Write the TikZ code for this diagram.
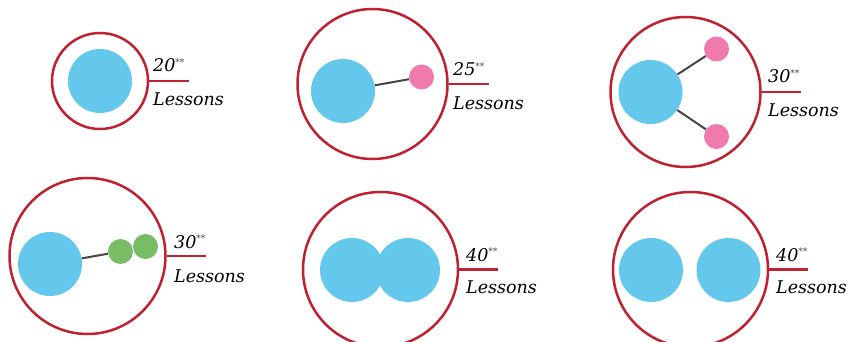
\documentclass[tikz,border=0pt]{standalone}
\usepackage{fontspec}
\setmainfont{DejaVu Serif}
\definecolor{ringred}{HTML}{C0202F}
\definecolor{ballblue}{HTML}{64C8EC}
\definecolor{ballpink}{HTML}{F07AAE}
\definecolor{ballgreen}{HTML}{78BC64}
\definecolor{stick}{HTML}{454545}
\begin{document}
\begin{tikzpicture}[x=1pt,y=-1pt,
  ring/.style={circle,draw=ringred,line width=2.5pt,inner sep=0pt,minimum size=#1},
  ball/.style={circle,fill=ballblue,inner sep=0pt,minimum size=64pt},
  small/.style={circle,fill=#1,inner sep=0pt,minimum size=25pt},
  bond/.style={draw=stick,line width=2pt},
  tick/.style={draw=ringred,line width=2.5pt},
  lbl/.style={anchor=base west,inner sep=0pt,font=\fontsize{17.5}{19}\selectfont\itshape}
]
\useasboundingbox (0,0) rectangle (853,342);
\newcommand{\stars}{\textsuperscript{\textcolor{stick}{\fontsize{9}{9}\selectfont**}}}
% 1
\node[ring=96pt] (o1) at (100,81) {};
\node[ball] (b1) at (100,81) {};
\coordinate (t1) at (189,81);
\draw[tick] (o1.east) -- (t1);
\node[lbl] (n1) at (153,72) {20\stars};
\node[lbl] (l1) at (153,106) {Lessons};
% 2
\node[ring=150pt] (o2) at (372.5,84) {};
\node[ball] (b2) at (343,91) {};
\node[small=ballpink] (p2) at (421.5,77) {};
\draw[bond] (b2) -- (p2);
\coordinate (t2) at (489,84);
\draw[tick] (o2.east) -- (t2);
\node[lbl] (n2) at (453,76) {25\stars};
\node[lbl] (l2) at (453,110) {Lessons};
% 3
\node[ring=150pt] (o3) at (685.5,92) {};
\node[ball] (b3) at (650.5,92) {};
\node[small=ballpink] (p3a) at (716.5,49) {};
\node[small=ballpink] (p3b) at (716.5,136.5) {};
\draw[bond] (b3) -- (p3a);
\draw[bond] (b3) -- (p3b);
\coordinate (t3) at (801,92);
\draw[tick] (o3.east) -- (t3);
\node[lbl] (n3) at (768,83) {30\stars};
\node[lbl] (l3) at (768,117) {Lessons};
% 4
\node[ring=156pt] (o4) at (87.5,256) {};
\node[ball] (b4) at (50,264) {};
\node[small=ballgreen] (g4a) at (120.5,251.5) {};
\node[small=ballgreen] (g4b) at (145.5,246.5) {};
\draw[bond] (b4) -- (g4a);
\coordinate (t4) at (206,256);
\draw[tick] (o4.east) -- (t4);
\node[lbl] (n4) at (174,248) {30\stars};
\node[lbl] (l4) at (174,282) {Lessons};
% 5
\node[ring=155pt] (o5) at (380.5,269.5) {};
\node[ball] (b5a) at (352,270) {};
\node[ball] (b5b) at (408,270) {};
\coordinate (t5) at (498,269.5);
\draw[tick] (o5.east) -- (t5);
\node[lbl] (n5) at (466,261) {40\stars};
\node[lbl] (l5) at (466,293) {Lessons};
% 6
\node[ring=155pt] (o6) at (690.5,269.5) {};
\node[ball] (b6a) at (651,270) {};
\node[ball] (b6b) at (728.5,270) {};
\coordinate (t6) at (808,269.5);
\draw[tick] (o6.east) -- (t6);
\node[lbl] (n6) at (776,261) {40\stars};
\node[lbl] (l6) at (776,293) {Lessons};
\end{tikzpicture}
\end{document}
